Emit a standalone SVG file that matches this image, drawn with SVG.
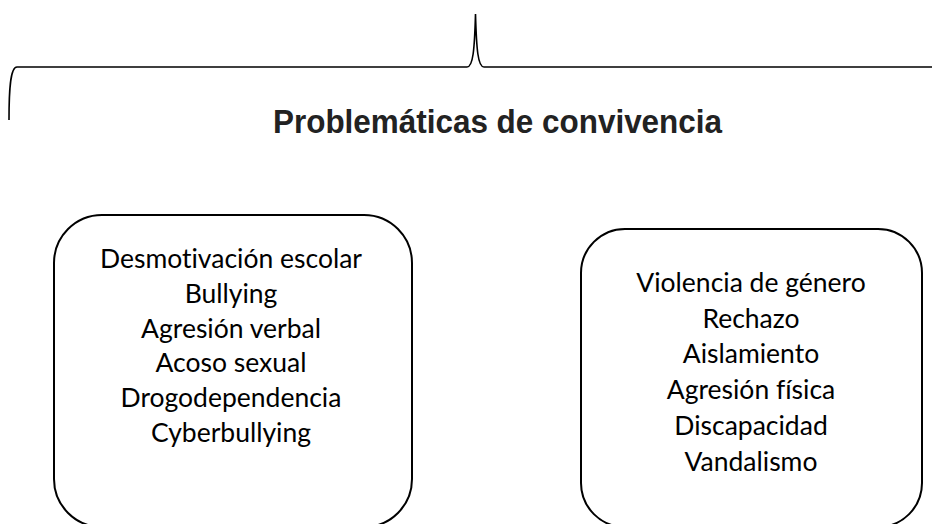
<svg xmlns="http://www.w3.org/2000/svg" width="932" height="524" viewBox="0 0 932 524">
<style>
.ln{fill:none;stroke:#000;stroke-width:1.6}
.box{fill:#fff;stroke:#000;stroke-width:2}
.title{font-family:"Liberation Sans",Arial,sans-serif;font-weight:bold;font-size:34px;fill:#222;text-anchor:middle}
.item{font-family:Lato,"Open Sans",sans-serif;font-size:26.5px;fill:#000;text-anchor:middle;font-variant-ligatures:none}
</style>
<rect width="932" height="524" fill="#fff"/>
<g id="connectors">
<path class="ln" d="M 9 120 C 9 92 10 67 17 67 L 467 67 C 473 67 474.5 50 475.5 14 C 476.5 50 478 67 484 67 L 934 67"/>
</g>
<g id="title">
<text class="title" x="497.5" y="133" textLength="449" lengthAdjust="spacingAndGlyphs">Problemáticas de convivencia</text>
</g>
<g id="box-left">
<rect class="box" x="54" y="215" width="358" height="312" rx="48" ry="48"/>
<text class="item" x="231" y="268">Desmotivación escolar</text>
<text class="item" x="231" y="303">Bullying</text>
<text class="item" x="231" y="338">Agresión verbal</text>
<text class="item" x="231" y="372">Acoso sexual</text>
<text class="item" x="231" y="407">Drogodependencia</text>
<text class="item" x="231" y="442">Cyberbullying</text>
</g>
<g id="box-right">
<rect class="box" x="581" y="229" width="341" height="298" rx="44" ry="44"/>
<text class="item" x="751" y="292">Violencia de género</text>
<text class="item" x="751" y="328">Rechazo</text>
<text class="item" x="751" y="363">Aislamiento</text>
<text class="item" x="751" y="399">Agresión física</text>
<text class="item" x="751" y="435">Discapacidad</text>
<text class="item" x="751" y="471">Vandalismo</text>
</g>
</svg>
